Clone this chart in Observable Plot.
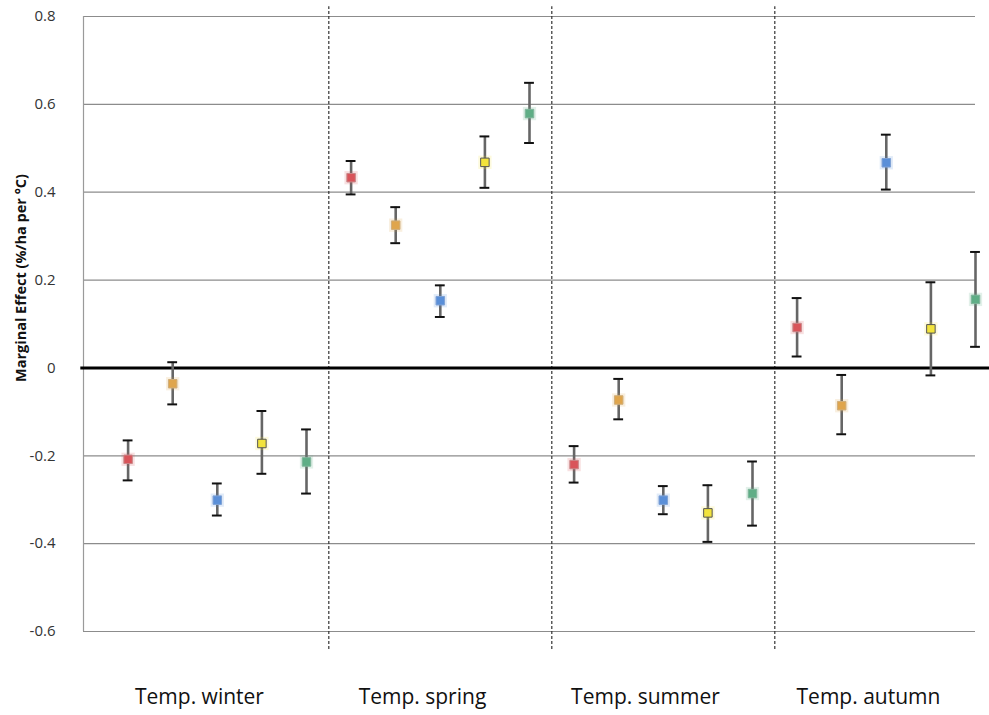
<!DOCTYPE html>
<html>
<head>
<meta charset="utf-8">
<script src="https://cdn.jsdelivr.net/npm/d3@7"></script>
<script src="https://cdn.jsdelivr.net/npm/@observablehq/plot@0.6"></script>
<style>
  html, body { margin: 0; padding: 0; background: #fff; }
  #chart svg { display: block; }
</style>
</head>
<body>
<div id="chart"></div>
<script>
// ---- data ----
const seasons = ["Temp. winter", "Temp. spring", "Temp. summer", "Temp. autumn"];
const seriesNames = ["s1", "s2", "s3", "s4", "s5"];
const seriesColors = ["#d9545a", "#dfa54c", "#5a8fd8", "#f2e33c", "#5fae86"];
const seriesStrokes = ["#c9888a", "#cfae7c", "#7fa2d6", "#555555", "#7fb59a"];

const estWinter = [-0.208, -0.036, -0.301, -0.172, -0.214];
const loWinter  = [-0.256, -0.083, -0.336, -0.241, -0.286];
const hiWinter  = [-0.165,  0.013, -0.263, -0.098, -0.140];

const estSpring = [0.433, 0.325, 0.153, 0.468, 0.579];
const loSpring  = [0.395, 0.284, 0.116, 0.410, 0.512];
const hiSpring  = [0.471, 0.366, 0.188, 0.527, 0.649];

const estSummer = [-0.220, -0.073, -0.301, -0.330, -0.286];
const loSummer  = [-0.261, -0.117, -0.333, -0.396, -0.359];
const hiSummer  = [-0.178, -0.025, -0.269, -0.267, -0.213];

const estAutumn = [0.092, -0.086, 0.467, 0.089, 0.156];
const loAutumn  = [0.026, -0.151, 0.406, -0.017, 0.048];
const hiAutumn  = [0.159, -0.016, 0.531, 0.195, 0.264];

const yTicks = [-0.6, -0.4, -0.2, 0, 0.2, 0.4, 0.6, 0.8];
const yLabel = "Marginal Effect (%/ha per °C)";

// ---- build table ----
const estimates = [estWinter, estSpring, estSummer, estAutumn];
const lows = [loWinter, loSpring, loSummer, loAutumn];
const highs = [hiWinter, hiSpring, hiSummer, hiAutumn];
const perGroup = seriesNames.length;
const rows = [];
seasons.forEach((season, g) => {
  seriesNames.forEach((s, i) => {
    rows.push({
      season, series: s, si: i,
      pos: g * perGroup + i + 1,
      est: estimates[g][i], lo: lows[g][i], hi: highs[g][i]
    });
  });
});
const dividers = seasons.slice(1).map((_, g) => (g + 1) * perGroup + 0.5);
const labelRows = seasons.map((s, g) => ({season: s, pos: g * perGroup + (perGroup + 1) / 2 - 0.4}));
const capHalf = 0.11;

const plot = Plot.plot({
  width: 989,
  height: 715,
  marginLeft: 83,
  marginRight: 14,
  marginTop: 16,
  marginBottom: 84,
  style: {fontFamily: "'Open Sans', 'Noto Sans', sans-serif", background: "#fff", overflow: "visible"},
  x: {domain: [0, seasons.length * perGroup], axis: null},
  y: {domain: [-0.6, 0.8], axis: null},
  marks: [
    // horizontal gridlines
    Plot.ruleY(yTicks.filter(d => d !== 0), {stroke: "#8c8c8c", strokeWidth: 1.2}),
    // left axis line
    Plot.ruleX([0], {stroke: "#9a9a9a", strokeWidth: 1.2}),
    // dashed dividers
    Plot.ruleX(dividers, {y1: -0.641, y2: 0.822, stroke: "#333", strokeWidth: 1.2, strokeDasharray: "3,2"}),
    // zero line
    Plot.ruleY([0], {x1: -0.06, x2: seasons.length * perGroup + 0.33, stroke: "#000", strokeWidth: 3}),
    // y tick labels
    Plot.text(yTicks, {
      x: 0, y: d => d, text: d => d === 0 ? "0" : d.toFixed(1),
      textAnchor: "end", dx: -28, fontSize: 15, fill: "#333"
    }),
    // y axis title
    Plot.text([yLabel], {
      frameAnchor: "left", textAnchor: "middle", rotate: -90, dx: -62, dy: -46,
      text: d => d, fontSize: 14.5, fontWeight: "bold", fill: "#111"
    }),
    // error bars
    Plot.ruleX(rows, {x: "pos", y1: "lo", y2: "hi", stroke: "#666", strokeWidth: 2.6}),
    Plot.ruleY(rows, {x1: d => d.pos - capHalf, x2: d => d.pos + capHalf, y: "hi", stroke: "#111", strokeWidth: 2}),
    Plot.ruleY(rows, {x1: d => d.pos - capHalf, x2: d => d.pos + capHalf, y: "lo", stroke: "#111", strokeWidth: 2}),
    // marker glow
    Plot.dot(rows, {x: "pos", y: "est", symbol: "square", r: 7.5, fill: d => seriesColors[d.si], fillOpacity: 0.18}),
    // markers
    Plot.dot(rows, {
      x: "pos", y: "est", symbol: "square", r: 4.8,
      fill: d => seriesColors[d.si], stroke: d => seriesStrokes[d.si], strokeWidth: 1
    }),
    // category labels
    Plot.text(labelRows, {
      x: "pos", y: -0.6, text: "season", dy: 66,
      fontSize: 21, fill: "#111", textAnchor: "middle"
    })
  ]
});
document.getElementById("chart").appendChild(plot);
</script>
</body>
</html>
